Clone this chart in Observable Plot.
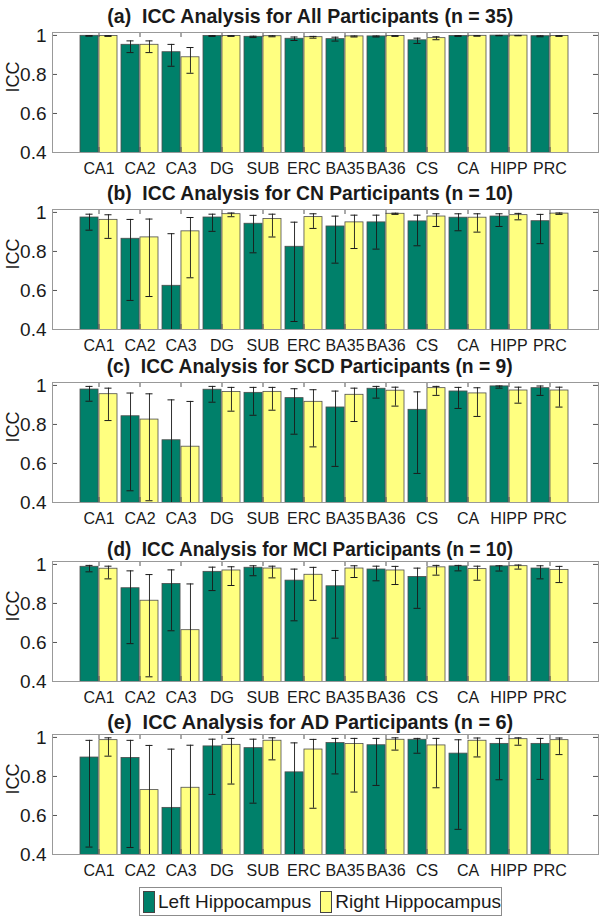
<!DOCTYPE html>
<html><head><meta charset="utf-8">
<script src="https://cdn.jsdelivr.net/npm/d3@7"></script>
<script src="https://cdn.jsdelivr.net/npm/@observablehq/plot@0.6"></script>
<style>
body{margin:0;background:#fff;}
#wrap{position:relative;width:604px;height:921px;font-family:"Liberation Sans",Arial,Helvetica,sans-serif;color:#1a1a1a;overflow:hidden;background:#fff}
.title{position:absolute;white-space:pre;font-weight:bold;font-size:21px;line-height:1;transform-origin:center center}
.panel{position:absolute;left:0}
#legend{position:absolute;left:139px;top:887px;width:361px;height:27px;border:1px solid #8c8c8c;background:#fff;font-size:19px;display:flex;align-items:center;white-space:nowrap}
#legend .sw{display:inline-block;width:25px;height:20px;border:1px solid #444;margin-left:3px;margin-right:3px}
</style></head><body><div id="wrap"></div>
<script>
// ---- data ----
const categories = ["CA1","CA2","CA3","DG","SUB","ERC","BA35","BA36","CS","CA","HIPP","PRC"];
const seriesNames = ["Left Hippocampus","Right Hippocampus"];
const yTicks = [0.4,0.6,0.8,1];

const titleA = "(a)  ICC Analysis for All Participants (n = 35)";
const leftA    = [0.998,0.952,0.914,0.997,0.993,0.983,0.981,0.995,0.975,0.997,0.999,0.996];
const leftA_lo = [0.996,0.912,0.842,0.995,0.989,0.974,0.971,0.992,0.959,0.995,0.998,0.993];
const leftA_hi = [0.999,0.972,0.954,0.999,0.996,0.992,0.991,0.997,0.986,0.999,1.000,0.998];
const rightA    = [0.997,0.952,0.888,0.997,0.996,0.991,0.995,0.997,0.986,0.998,0.999,0.997];
const rightA_lo = [0.995,0.912,0.806,0.995,0.993,0.986,0.992,0.995,0.978,0.996,0.998,0.995];
const rightA_hi = [0.999,0.972,0.938,0.999,0.998,0.995,0.997,0.999,0.993,0.999,1.000,0.999];

const titleB = "(b)  ICC Analysis for CN Participants (n = 10)";
const leftB    = [0.974,0.865,0.624,0.974,0.942,0.824,0.928,0.949,0.954,0.973,0.979,0.955];
const leftB_lo = [0.909,0.549,0.360,0.903,0.793,0.441,0.740,0.812,0.829,0.906,0.928,0.840];
const leftB_hi = [0.991,0.964,0.891,0.991,0.985,0.950,0.981,0.986,0.986,0.993,0.993,0.990];
const rightB    = [0.962,0.872,0.903,0.991,0.966,0.976,0.949,0.993,0.979,0.973,0.986,0.994];
const rightB_lo = [0.867,0.569,0.665,0.978,0.874,0.918,0.815,0.990,0.928,0.899,0.962,0.990];
const rightB_hi = [0.988,0.966,0.974,0.997,0.991,0.993,0.986,0.996,0.993,0.993,0.995,0.997];

const titleC = "(c)  ICC Analysis for SCD Participants (n = 9)";
const leftC    = [0.979,0.842,0.719,0.978,0.962,0.935,0.887,0.983,0.875,0.969,0.995,0.986];
const leftC_lo = [0.919,0.460,0.350,0.914,0.847,0.750,0.585,0.935,0.549,0.882,0.986,0.949];
const leftC_hi = [0.995,0.961,0.926,0.995,0.990,0.983,0.971,0.995,0.967,0.990,0.997,0.997];
const rightC    = [0.955,0.825,0.686,0.966,0.967,0.916,0.952,0.973,0.986,0.959,0.974,0.974];
const rightC_lo = [0.820,0.409,0.350,0.868,0.873,0.685,0.815,0.894,0.949,0.841,0.909,0.889];
const rightC_hi = [0.986,0.957,0.918,0.990,0.990,0.978,0.986,0.991,0.995,0.988,0.991,0.991];

const titleD = "(d)  ICC Analysis for MCI Participants (n = 10)";
const leftD    = [0.988,0.878,0.900,0.962,0.983,0.917,0.888,0.974,0.936,0.990,0.990,0.979];
const leftD_lo = [0.962,0.594,0.660,0.866,0.942,0.711,0.622,0.916,0.775,0.967,0.966,0.926];
const leftD_hi = [0.995,0.967,0.972,0.986,0.993,0.976,0.969,0.991,0.981,0.995,0.993,0.993];
const rightD    = [0.978,0.814,0.663,0.969,0.979,0.947,0.979,0.969,0.985,0.976,0.991,0.972];
const rightD_lo = [0.926,0.424,0.350,0.892,0.931,0.816,0.933,0.897,0.945,0.919,0.976,0.907];
const rightD_hi = [0.991,0.948,0.900,0.988,0.991,0.985,0.993,0.990,0.995,0.991,0.997,0.990];

const titleE = "(e)  ICC Analysis for AD Participants (n = 6)";
const leftE    = [0.897,0.895,0.639,0.954,0.945,0.821,0.971,0.960,0.988,0.917,0.967,0.967];
const leftE_lo = [0.438,0.436,0.350,0.708,0.663,0.350,0.813,0.754,0.919,0.529,0.783,0.785];
const leftE_hi = [0.985,0.985,0.940,0.991,0.991,0.972,0.995,0.995,0.995,0.988,0.995,0.995];
const rightE    = [0.986,0.730,0.742,0.962,0.983,0.938,0.966,0.988,0.959,0.983,0.991,0.986];
const rightE_lo = [0.904,0.350,0.350,0.761,0.885,0.637,0.720,0.935,0.742,0.900,0.960,0.912];
const rightE_hi = [0.998,0.959,0.960,0.995,0.998,0.990,0.995,0.998,0.995,0.997,0.998,0.997];

// ---- layout / style ----
const GREEN = "#00806a", YELLOW = "#ffff80", EDGE = "#4d4d4d", BOX = "#999999", INK = "#1a1a1a";
const W = 604, ML = 52, MR = 6, MT = 4, MB = 30, H = 120;
const XR = [72, 575.8], PAD = 0.09, CAP = 8;
const layout = [
  {title: titleA, L: leftA, Llo: leftA_lo, Lhi: leftA_hi, R: rightA, Rlo: rightA_lo, Rhi: rightA_hi, boxTop: 31.7, titleY: 15},
  {title: titleB, L: leftB, Llo: leftB_lo, Lhi: leftB_hi, R: rightB, Rlo: rightB_lo, Rhi: rightB_hi, boxTop: 208.7, titleY: 192},
  {title: titleC, L: leftC, Llo: leftC_lo, Lhi: leftC_hi, R: rightC, Rlo: rightC_lo, Rhi: rightC_hi, boxTop: 382, titleY: 365},
  {title: titleD, L: leftD, Llo: leftD_lo, Lhi: leftD_hi, R: rightD, Rlo: rightD_lo, Rhi: rightD_hi, boxTop: 561.3, titleY: 548},
  {title: titleE, L: leftE, Llo: leftE_lo, Lhi: leftE_hi, R: rightE, Rlo: rightE_lo, Rhi: rightE_hi, boxTop: 734.3, titleY: 721}
];
const TITLE_CX = 310, TITLE_W = 406;

const bw = d3.scaleBand().domain(categories).range(XR).padding(PAD).bandwidth();
const half = bw / 2, capInset = (bw - CAP) / 2;
const fw = W - ML - MR;

function makePanel(p) {
  const rows = categories.map((c, i) => ({region: c, L: p.L[i], Llo: p.Llo[i], Lhi: p.Lhi[i], R: p.R[i], Rlo: p.Rlo[i], Rhi: p.Rhi[i]}));
  const err = (lo, hi, dx) => [
    Plot.ruleX(rows, {x: "region", y1: lo, y2: hi, dx, stroke: INK, strokeWidth: 0.9, clip: true}),
    Plot.tickY(rows, {x: "region", y: lo, dx, insetLeft: capInset, insetRight: capInset, stroke: INK, strokeWidth: 1, clip: true}),
    Plot.tickY(rows, {x: "region", y: hi, dx, insetLeft: capInset, insetRight: capInset, stroke: INK, strokeWidth: 1, clip: true})
  ];
  return Plot.plot({
    width: W, height: MT + H + MB,
    marginTop: MT, marginBottom: MB, marginLeft: ML, marginRight: MR,
    style: {fontFamily: '"Liberation Sans", Arial, Helvetica, sans-serif', fontSize: "16px", color: INK, background: "transparent", overflow: "visible"},
    x: {type: "band", domain: categories, range: XR, padding: PAD},
    y: {domain: [0.4, 1.015]},
    marks: [
      Plot.barY(rows, {x: "region", y: "L", fill: GREEN, stroke: EDGE, strokeWidth: 0.8, insetRight: half, clip: true}),
      Plot.barY(rows, {x: "region", y: "R", fill: YELLOW, stroke: EDGE, strokeWidth: 0.8, insetLeft: half, clip: true}),
      ...err("Llo", "Lhi", -bw / 4),
      ...err("Rlo", "Rhi", bw / 4),
      Plot.tickY(yTicks, {y: d => d, insetRight: fw - 5, stroke: "#555"}),
      Plot.tickY(yTicks, {y: d => d, insetLeft: fw - 5, stroke: "#555"}),
      Plot.tickX(categories, {x: d => d, insetTop: H - 5, stroke: "#555"}),
      Plot.tickX(categories, {x: d => d, insetBottom: H - 5, stroke: "#555"}),
      Plot.frame({stroke: BOX, strokeWidth: 1}),
      Plot.axisY(yTicks, {tickSize: 0, tickPadding: 6, fontSize: 19, label: null, tickFormat: d => d === 1 ? "1" : d.toFixed(1)}),
      Plot.axisX({tickSize: 0, tickPadding: 10, fontSize: 16, label: null}),
      Plot.text(["ICC"], {frameAnchor: "left", dx: -39, rotate: -90, fontSize: 18, fill: INK})
    ]
  });
}

const wrap = document.getElementById("wrap");
for (const p of layout) {
  const svg = makePanel(p);
  svg.classList.add("panel");
  svg.style.top = (p.boxTop - MT) + "px";
  wrap.appendChild(svg);
  const t = document.createElement("div");
  t.className = "title";
  t.textContent = p.title;
  wrap.appendChild(t);
  const r = t.getBoundingClientRect();
  t.style.left = (TITLE_CX - r.width / 2) + "px";
  t.style.top = (p.titleY - r.height / 2) + "px";
  t.style.transform = `scaleX(${TITLE_W / r.width})`;
}
const lg = document.createElement("div");
lg.id = "legend";
const colors = [GREEN, YELLOW];
seriesNames.forEach((name, i) => {
  const s = document.createElement("span"); s.className = "sw"; s.style.background = colors[i];
  if (i === 1) s.style.marginLeft = "9px";
  const tx = document.createElement("span"); tx.textContent = name;
  lg.appendChild(s); lg.appendChild(tx);
});
wrap.appendChild(lg);
</script></body></html>
